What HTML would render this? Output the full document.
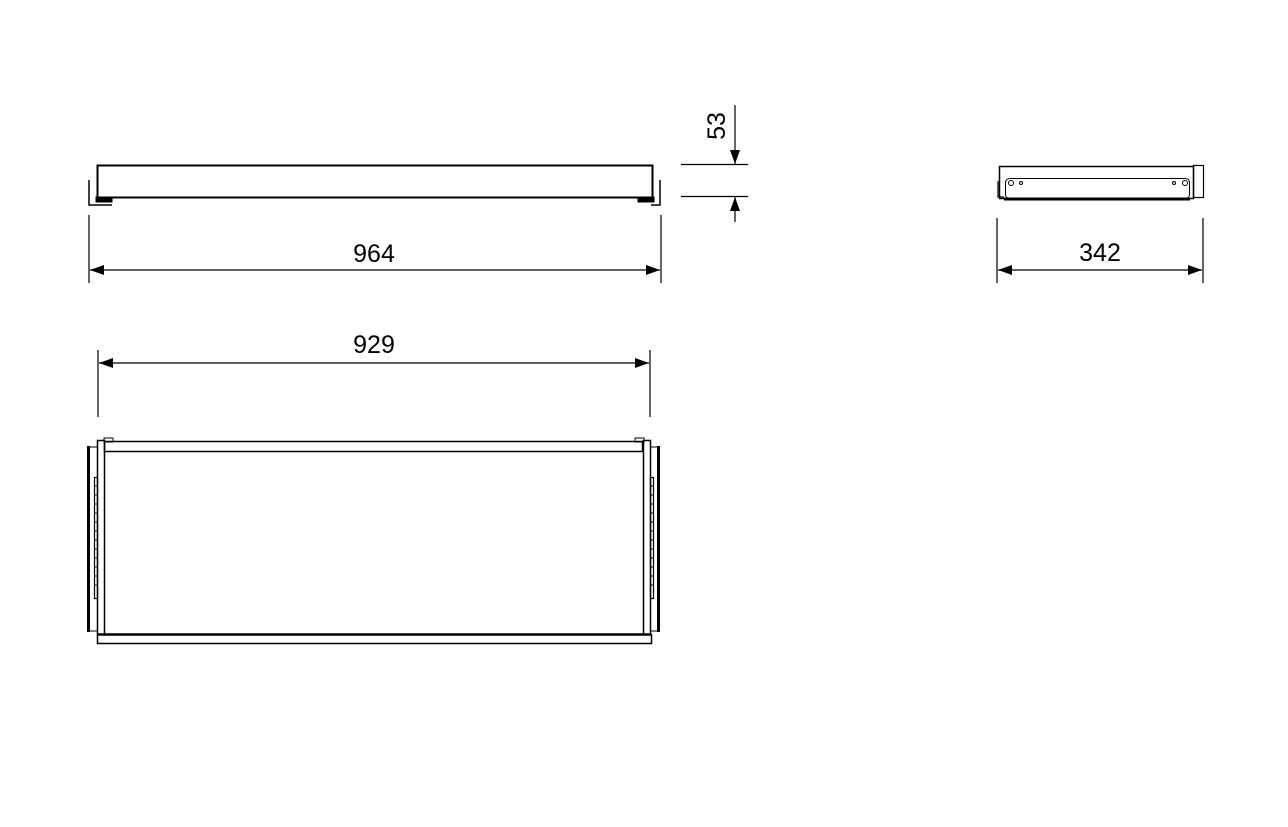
<!DOCTYPE html>
<html><head><style>body{margin:0;background:#fff}svg{display:block}</style></head><body>
<svg width="1288" height="827" viewBox="0 0 1288 827" xmlns="http://www.w3.org/2000/svg" font-family="Liberation Sans, sans-serif">
<defs>
<marker id="b" viewBox="0 0 14 10" refX="14" refY="5" markerWidth="14" markerHeight="10" markerUnits="userSpaceOnUse" orient="auto-start-reverse"><path d="M0,0 L14,5 L0,10 Z" fill="#000"/></marker>
</defs>
<g stroke="#000" fill="none">
<rect x="97.5" y="165.5" width="555" height="32" stroke-width="2"/>
<path d="M89,180 V205 H112 M651,205 H660 V180" stroke-width="1.5"/>
<rect x="96" y="197" width="16" height="5" fill="#000" stroke-width="1"/>
<rect x="638" y="197" width="16" height="5" fill="#000" stroke-width="1"/>
<path d="M89,215 V283 M661,215 V283" stroke-width="1.2"/>
<path d="M90,270 H660" stroke-width="1.2" marker-start="url(#b)" marker-end="url(#b)"/>
<path d="M681,164.5 H748 M681,196.5 H748" stroke-width="1.2"/>
<path d="M735,105 V164" stroke-width="1.2" marker-end="url(#b)"/>
<path d="M735,222 V197" stroke-width="1.2" marker-end="url(#b)"/>
<rect x="999.5" y="166.5" width="194" height="32" stroke-width="1.5"/>
<rect x="1193.5" y="165.5" width="10" height="32" stroke-width="1.2"/>
<rect x="1005.5" y="178.5" width="184" height="20" rx="4" stroke-width="1"/>
<path d="M998,181 V197 H1004" stroke-width="1.2"/>
<path d="M1004,199 H1190" stroke-width="3"/>
<circle cx="1011" cy="183" r="2.5"/><circle cx="1021" cy="183" r="1.5"/>
<circle cx="1174" cy="183" r="1.5"/><circle cx="1185" cy="183" r="2.5"/>
<path d="M997,218 V283 M1203,218 V283" stroke-width="1.2"/>
<path d="M998,270 H1202" stroke-width="1.2" marker-start="url(#b)" marker-end="url(#b)"/>
<path d="M98,350 V417 M650,350 V417" stroke-width="1.2"/>
<path d="M99,363 H649" stroke-width="1.2" marker-start="url(#b)" marker-end="url(#b)"/>
<rect x="104.5" y="441.5" width="538" height="10" stroke-width="1.5"/>
<rect x="97.5" y="440.5" width="7" height="194" stroke-width="1.5"/>
<rect x="643.5" y="440.5" width="7" height="194" stroke-width="1.5"/>
<rect x="104" y="438" width="9" height="4" stroke-width="1"/>
<rect x="635" y="438" width="9" height="4" stroke-width="1"/>
<rect x="87" y="446" width="3" height="186" fill="#000" stroke="none"/>
<rect x="657" y="446" width="3" height="186" fill="#000" stroke="none"/>
<path d="M90,447 H97 M90,631 H97 M650,447 H657 M650,631 H657" stroke-width="1"/>
<rect x="94.5" y="477.5" width="3" height="121" stroke-width="1.2"/>
<rect x="650.5" y="477.5" width="3" height="121" stroke-width="1.2"/>
<path d="M94,486 H98 M94,495 H98 M94,504 H98 M94,513 H98 M94,522 H98 M94,531 H98 M94,540 H98 M94,549 H98 M94,558 H98 M94,567 H98 M94,576 H98 M94,585 H98 M650,486 H654 M650,495 H654 M650,504 H654 M650,513 H654 M650,522 H654 M650,531 H654 M650,540 H654 M650,549 H654 M650,558 H654 M650,567 H654 M650,576 H654 M650,585 H654" stroke-width="1"/>
<path d="M97,634.5 H651" stroke-width="2.5"/>
<rect x="97.5" y="634.5" width="554" height="9" stroke-width="1.5"/>
</g>
<g font-size="25" text-anchor="middle" fill="#000">
<text x="374" y="262">964</text>
<text x="1100" y="261">342</text>
<text x="374" y="353">929</text>
<text transform="translate(725,126) rotate(-90)">53</text>
</g>
</svg>
</body></html>
